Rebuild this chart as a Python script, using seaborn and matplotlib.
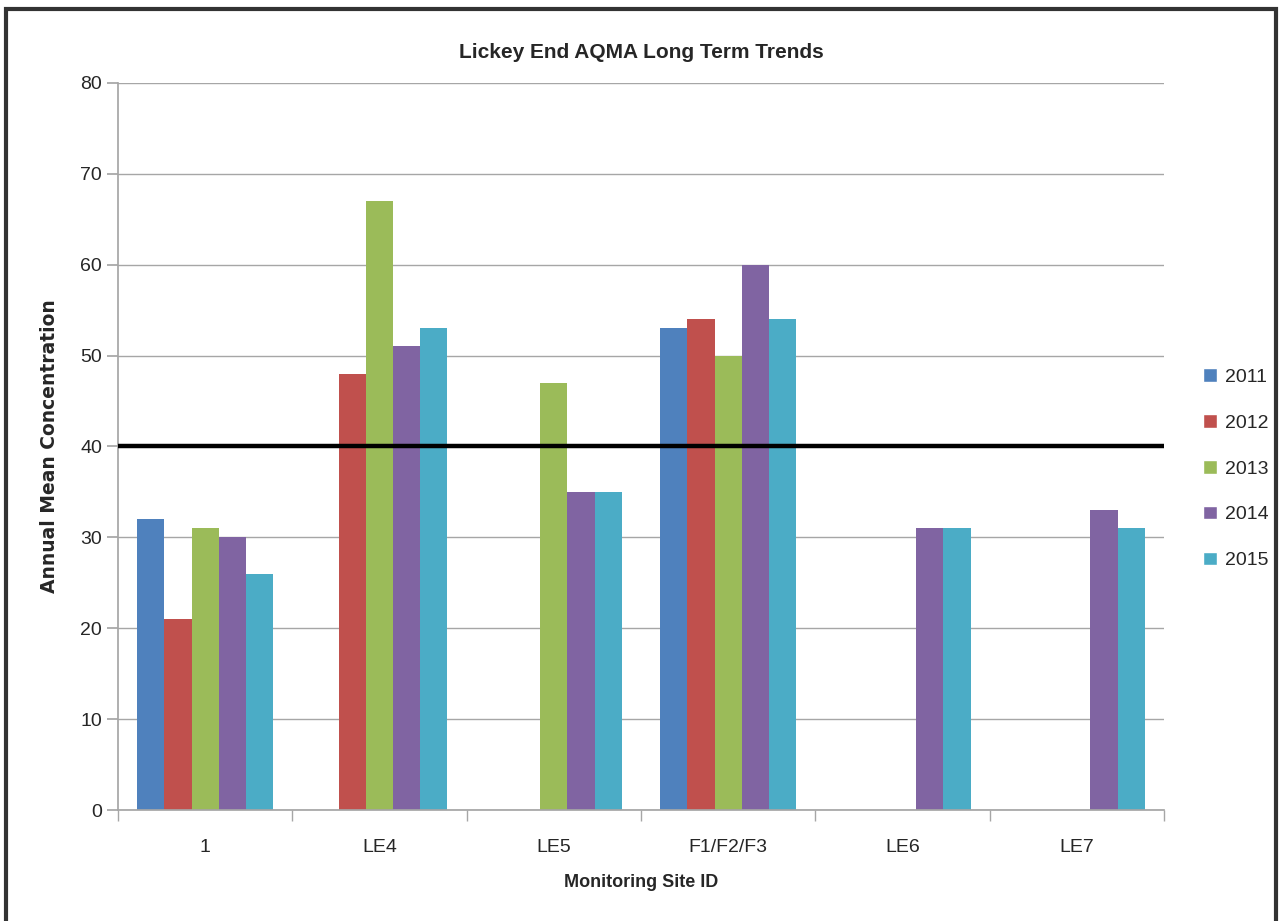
import numpy as np
import pandas as pd
import seaborn as sns
import matplotlib.pyplot as plt
import matplotlib.patches as patches

sites = ["1", "LE4", "LE5", "F1/F2/F3", "LE6", "LE7"]
years = ["2011", "2012", "2013", "2014", "2015"]
v2011 = [32, np.nan, np.nan, 53, np.nan, np.nan]
v2012 = [21, 48, np.nan, 54, np.nan, np.nan]
v2013 = [31, 67, 47, 50, np.nan, np.nan]
v2014 = [30, 51, 35, 60, 31, 33]
v2015 = [26, 53, 35, 54, 31, 31]
objective = 40
colors = ["#4F81BD", "#C0504D", "#9BBB59", "#8064A2", "#4BACC6"]

rows = []
for yr, vals in zip(years, [v2011, v2012, v2013, v2014, v2015]):
    for s, v in zip(sites, vals):
        rows.append({"site": s, "year": yr, "value": v})
df = pd.DataFrame(rows)

sns.set_theme(style="white")
plt.rcParams['font.family'] = ['Liberation Sans Narrow', 'Liberation Sans', 'DejaVu Sans']

fig = plt.figure(figsize=(12.82, 9.21), dpi=100)
ax = fig.add_axes([0.092, 0.1205, 0.816, 0.7895])

sns.barplot(data=df, x="site", y="value", hue="year", order=sites,
            hue_order=years, palette=colors, width=0.78, saturation=1,
            linewidth=0, ax=ax, legend=False)

ax.axhline(objective, color="black", lw=3.2, zorder=5)

ax.set_ylim(0, 80)
ax.set_xlim(-0.5, len(sites) - 0.5)
ax.set_yticks(range(0, 81, 10))
ax.yaxis.grid(True, color="#A6A6A6", lw=1)
ax.set_axisbelow(True)
for side in ["top", "right"]:
    ax.spines[side].set_visible(False)
for side in ["left", "bottom"]:
    ax.spines[side].set_color("#A6A6A6")
ax.set_xticks(np.arange(len(sites)))
ax.set_xticklabels(sites, fontsize=14)
ax.set_xticks(np.arange(-0.5, len(sites)), minor=True)
ax.tick_params(axis="x", which="major", length=0, pad=21)
ax.tick_params(axis="x", which="minor", length=8, color="#A6A6A6", bottom=True)
ax.tick_params(axis="y", length=8, color="#A6A6A6", labelsize=14, left=True)

ax.set_title("Lickey End AQMA Long Term Trends", fontsize=15, fontweight="bold", pad=18)
ax.set_xlabel("Monitoring Site ID", fontsize=13, fontweight="bold", labelpad=13)
ax.set_ylabel("Annual Mean Concentration", fontsize=13.5, fontweight="bold",
              family="DejaVu Sans", labelpad=15)

handles = [patches.Rectangle((0, 0), 1, 1, facecolor=c) for c in colors]
fig.legend(handles=handles, labels=years, loc="center left",
           bbox_to_anchor=(0.925, 0.491), frameon=False, fontsize=14,
           handlelength=0.7, handleheight=0.7, labelspacing=1.45, handletextpad=0.4)

fig.patches.append(patches.Rectangle((0.005, -0.01), 0.99, 1.0, transform=fig.transFigure,
                                     fill=False, edgecolor="#333333", lw=3))

fig.savefig("out.png", dpi=100)
